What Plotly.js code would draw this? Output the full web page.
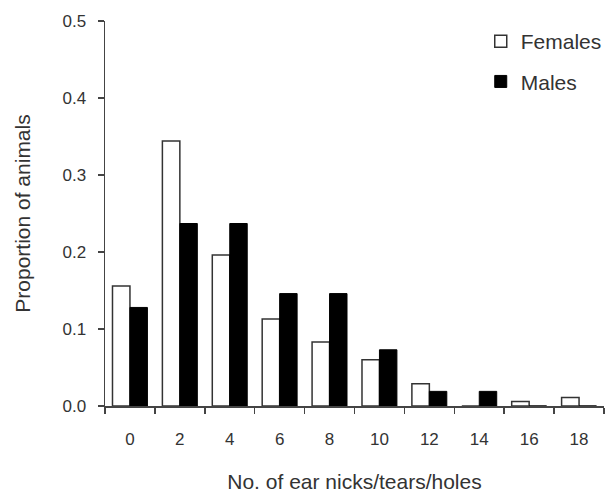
<!DOCTYPE html>
<html>
<head>
<meta charset="utf-8">
<script src="https://cdn.plot.ly/plotly-3.0.1.min.js"></script>
<style>
html, body { margin: 0; padding: 0; background: #fff; }
#chart { width: 614px; height: 494px; }
</style>
</head>
<body>
<div id="chart"></div>
<script>
const categories = ["0", "2", "4", "6", "8", "10", "12", "14", "16", "18"];
const females = [0.156, 0.344, 0.196, 0.113, 0.083, 0.060, 0.029, 0, 0.006, 0.011];
const males = [0.128, 0.237, 0.237, 0.146, 0.146, 0.073, 0.019, 0.019, 0, 0];
const yTicks = [0, 0.1, 0.2, 0.3, 0.4, 0.5];

const textColor = "#333";
const axisColor = "#444";
const fontFamily = "Liberation Sans, Arial, sans-serif";

const traces = [
  {
    type: "bar", name: "Females", x: categories, y: females,
    legendgroup: "f",
    marker: { color: "#ffffff", line: { color: "#333", width: 1.5 } }
  },
  {
    type: "bar", name: "Males", x: categories, y: males,
    legendgroup: "m",
    marker: { color: "#000000", line: { color: "#000", width: 1 } }
  }
];

const layout = {
  width: 614, height: 494,
  margin: { l: 105, r: 10, t: 21, b: 88, autoexpand: false },
  paper_bgcolor: "#fff", plot_bgcolor: "#fff",
  font: { family: fontFamily, color: textColor, size: 17 },
  barmode: "group", bargap: 0.3, bargroupgap: 0,
  showlegend: true,
  legend: {
    x: 0.753, y: 1.0, xanchor: "left", yanchor: "top",
    font: { size: 21, color: textColor },
    bgcolor: "rgba(0,0,0,0)", tracegroupgap: 10
  },
  xaxis: {
    type: "category",
    showline: true, linecolor: axisColor, linewidth: 1.5,
    ticks: "outside", ticklen: 6, tickcolor: axisColor, tickwidth: 1.5,
    tickson: "boundaries",
    showgrid: false, zeroline: false,
    tickfont: { size: 17 },
    ticklabelstandoff: 17,
    title: { text: "No. of ear nicks/tears/holes", font: { size: 21 }, standoff: 26 }
  },
  yaxis: {
    range: [0, 0.5], tickvals: yTicks, tickformat: ".1f",
    showline: true, linecolor: axisColor, linewidth: 1.5,
    ticks: "outside", ticklen: 6, tickcolor: axisColor, tickwidth: 1.5,
    showgrid: false, zeroline: false,
    tickfont: { size: 17 },
    ticklabelstandoff: 8,
    title: { text: "Proportion of animals", font: { size: 21 }, standoff: 26 }
  }
};

Plotly.newPlot("chart", traces, layout, { displayModeBar: false, staticPlot: true });
</script>
</body>
</html>
